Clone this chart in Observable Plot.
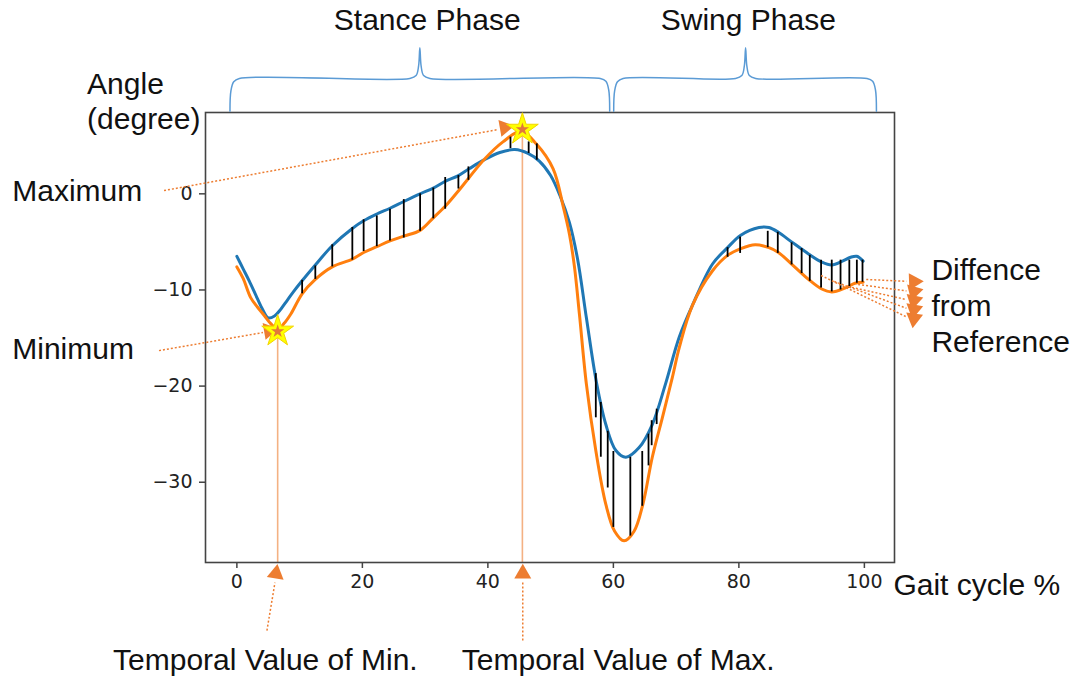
<!DOCTYPE html>
<html><head><meta charset="utf-8">
<script src="https://cdn.jsdelivr.net/npm/d3@7"></script>
<script src="https://cdn.jsdelivr.net/npm/@observablehq/plot@0.6"></script>
<style>body{margin:0;background:#fff} svg{display:block}</style>
</head><body><div id="chart"></div>
<script>
// Measured (blue) curve
const blueT = [0,1,2,3,4,5,6,7,8,9,10.2,12.5,15.2,18.4,20.2,22.3,24.4,26.6,29.2,31.3,33.2,35.3,37.0,39.3,41.9,44.3,46.4,48.2,50.0,51.5,53.0,54.3,55.7,57.3,58.8,60.4,62.0,64.1,66.2,68.3,70.5,72.6,75.8,78.2,80.3,83.2,84.8,86.3,88.4,91.1,93.2,94.8,96.5,97.8,98.8,99.8];
const blueV = [-6.5,-7.8,-9.1,-10.5,-11.9,-12.9,-12.7,-12.0,-11.1,-10.2,-9.2,-7.4,-5.4,-3.6,-2.8,-2.1,-1.5,-0.8,0,0.6,1.3,1.9,2.6,3.5,4.3,4.6,4.2,3.4,1.9,-0.2,-3.0,-6.8,-12.9,-19.6,-24.0,-26.7,-27.4,-26.4,-24.0,-19.8,-14.9,-11.6,-7.3,-5.6,-4.3,-3.5,-3.5,-4.0,-5.0,-6.25,-7.1,-7.4,-7.0,-6.6,-6.5,-7.0];
// Reference (orange) curve
const orangeT = [0,1,2.2,3.3,4.3,5.4,6.5,7.5,8.6,10.4,12.5,15.2,18.4,20.2,22.3,24.4,26.6,29.2,31.3,33.2,35.3,36.9,39.3,42.4,45.3,47.7,50.4,52.0,53.0,53.8,54.6,55.7,57.2,58.8,60.2,61.7,63.3,64.7,66.2,67.8,69.4,70.5,72.6,75.8,78.2,80.3,82.6,84.8,86.3,88.4,91.1,93.2,94.8,96.9,98.5,99.8];
const orangeV = [-7.6,-8.8,-10.8,-11.8,-12.6,-13.5,-14.1,-13.5,-12.5,-10.4,-8.9,-7.6,-6.8,-6.1,-5.5,-4.9,-4.4,-3.8,-2.5,-1.3,0.3,1.6,3.5,5.4,6.5,5.2,2.6,-1.3,-4.2,-7.6,-12.6,-19.8,-26.7,-32.3,-35.1,-36.1,-35.1,-32.3,-27.4,-23.3,-19.1,-16.0,-11.6,-8.0,-6.4,-5.7,-5.3,-5.6,-6.1,-7.3,-8.9,-9.9,-10.2,-9.8,-9.3,-9.2];
// Difference ticks
const diffT = [10.4,12.5,15.2,18.4,20.2,22.3,24.4,26.6,29.2,31.3,33.2,35.3,36.9,43.6,46.5,47.8,57.2,58.0,59.1,60.0,62.7,64.6,65.6,66.1,66.9,78.2,80.2,84.6,86.2,88.4,90.0,91.3,93.1,94.8,96.2,97.6,98.8,99.7];
const diffTop = [-9.0,-7.5,-5.3,-3.5,-2.7,-2.3,-1.6,-0.6,0,0.6,1.7,1.9,2.8,5.9,5.4,5.2,-18.7,-21.7,-24.7,-26.8,-27.4,-26.8,-25.0,-23.6,-22.4,-5.6,-4.5,-3.9,-4.0,-5.1,-5.7,-6.4,-6.9,-6.9,-6.9,-6.9,-6.9,-6.9];
const diffBottom = [-10.4,-8.9,-7.6,-6.9,-6.0,-5.5,-4.9,-4.6,-3.9,-2.6,-1.6,0.5,1.4,4.7,4.2,3.5,-23.3,-27.4,-30.6,-34.7,-35.6,-32.5,-28.3,-26.2,-24.0,-6.6,-6.2,-5.6,-6.2,-7.4,-8.3,-9.1,-9.8,-10.2,-10.0,-9.8,-9.3,-9.2];
// Axis ticks
const xTicks = [0,20,40,60,80,100];
const yTicks = [0,-10,-20,-30];
// Extremes (reference curve)
const extremeT = [6.5,45.5];
const extremeV = [-14.3,6.7];
// Annotation labels
const annoLabels = ["Angle","(degree)","Maximum","Minimum","Stance Phase","Swing Phase","Gait cycle %","Diffence","from","Reference","Temporal Value of Min.","Temporal Value of Max."];
const annoX = [-23.87,-23.87,-35.8,-35.8,30.33,81.5,104.63,110.68,110.68,110.68,-19.73,35.84];
const annoY = [11.40,7.76,0.30,-16.17,17.99,17.99,-40.68,-7.95,-11.66,-15.41,-48.58,-48.58];
const annoAnchor = ["start","start","start","start","middle","middle","start","start","start","start","start","start"];
// Annotation arrows: start/end of dotted line, head position and direction
const arrowX1 = [-11.61,-12.41,4.79,45.56,93.1,95.2,97.4,99.0,100.3];
const arrowY1 = [0.34,-16.31,-45.43,-46.46,-8.5,-9.12,-9.64,-9.43,-8.91];
const arrowX2 = [41.58,4.16,6.07,45.56,106.7,106.7,106.7,106.7,106.7];
const arrowY2 = [6.68,-14.43,-40.44,-40.44,-12.8,-11.9,-11.0,-10.1,-9.1];
const headX = [42.69,5.11,6.23,45.56,107.9,107.9,107.9,107.9,107.9];
const headY = [6.90,-14.22,-39.5,-39.5,-12.97,-12.04,-11.1,-10.16,-9.12];
const headRot = [80,80,9,0,68,70,72,76,88];
// Phase braces: [start, tip, end] along x; base / bar / tip heights
const braceStart = [-1.10,60.05];
const braceTip = [29.16,81.07];
const braceEnd = [59.41,101.92];
const braceBase = 8.8, braceBar = 12.0, braceTop = 15.2;

const blue = blueT.map((t,i)=>({t, v:blueV[i]}));
const orange = orangeT.map((t,i)=>({t, v:orangeV[i]}));
const diffs = diffT.map((t,i)=>({t, top:diffTop[i], bottom:diffBottom[i]}));
const extremes = extremeT.map((t,i)=>({t, v:extremeV[i]}));
const annos = annoLabels.map((s,i)=>({text:s, x:annoX[i], y:annoY[i], a:annoAnchor[i]}));
const arrows = arrowX1.map((x,i)=>({x1:x, y1:arrowY1[i], x2:arrowX2[i], y2:arrowY2[i], hx:headX[i], hy:headY[i], r:headRot[i]}));
// brace polylines
const braces = [];
braceStart.forEach((s,i)=>{
  const m = braceTip[i], e = braceEnd[i], k = i;
  const pts = [
    [s, braceBase-0.2],[s+0.15, braceBase+1.9],[s+0.6, braceBase+2.85],[s+1.5, braceBar],
    [m-1.6, braceBar],[m-0.6, braceBar+0.3],[m-0.2, braceBar+1.3],[m, braceTop],
    [m+0.2, braceBar+1.3],[m+0.6, braceBar+0.3],[m+1.6, braceBar],
    [e-1.5, braceBar],[e-0.6, braceBar-0.3],[e-0.15, braceBar-1.2],[e, braceBase-0.2]
  ];
  pts.forEach(([x,y])=>braces.push({k, x, y}));
});

const font = "'Liberation Sans', Arial, sans-serif";
const plot = Plot.plot({
  width: 1082, height: 678,
  marginLeft: 205, marginRight: 188, marginTop: 112, marginBottom: 116,
  x: {domain: [-5, 104.8]},
  y: {domain: [-38.35, 8.46]},
  style: {fontFamily: "'DejaVu Sans', sans-serif", fontSize: "19px", background: "#fff", overflow: "visible"},
  marks: [
    Plot.axisX({ticks: xTicks, tickSize: 6, tickPadding: 6, label: null, stroke: "#444", strokeWidth: 1.5, fill: "#222", fontSize: 19}),
    Plot.axisY({ticks: yTicks, tickSize: 6, tickPadding: 7, label: null, stroke: "#444", strokeWidth: 1.5, fill: "#222", fontSize: 19}),
    Plot.ruleX(extremes, {x: "t", y1: "v", y2: -38.35, stroke: "#f4b183", strokeWidth: 1.6}),
    Plot.line(blue, {x: "t", y: "v", stroke: "#1f77b4", strokeWidth: 3, curve: "catmull-rom"}),
    Plot.line(orange, {x: "t", y: "v", stroke: "#ff7f0e", strokeWidth: 3, curve: "catmull-rom"}),
    Plot.ruleX(diffs, {x: "t", y1: "top", y2: "bottom", stroke: "#000", strokeWidth: 1.8}),
    Plot.frame({stroke: "#444", strokeWidth: 1.6}),
    Plot.line(braces, {x: "x", y: "y", z: "k", stroke: "#5b9bd5", strokeWidth: 1.5, curve: "catmull-rom"}),
    Plot.link(arrows, {x1: "x1", y1: "y1", x2: "x2", y2: "y2", stroke: "#ed7d31", strokeWidth: 1.5, strokeDasharray: "2,2"}),
    Plot.dot(arrows, {x: "hx", y: "hy", rotate: "r", symbol: "triangle", r: 6.3, fill: "#ed7d31", stroke: "none"}),
    Plot.dot(extremes, {x: "t", y: "v", symbol: "star", r: 10, fill: "#ffff00", stroke: "#f2d400", strokeWidth: 1}),
    Plot.dot(extremes, {x: "t", y: "v", symbol: "star", r: 4.2, fill: "#e2773a", stroke: "none"}),
    Plot.text(annos, {x: "x", y: "y", text: "text", textAnchor: "start", filter: d => d.a === "start", fontSize: 30, fontFamily: font, fill: "#111"}),
    Plot.text(annos, {x: "x", y: "y", text: "text", textAnchor: "middle", filter: d => d.a === "middle", fontSize: 30, fontFamily: font, fill: "#111"})
  ]
});
document.getElementById("chart").append(plot);
</script>
</body></html>
